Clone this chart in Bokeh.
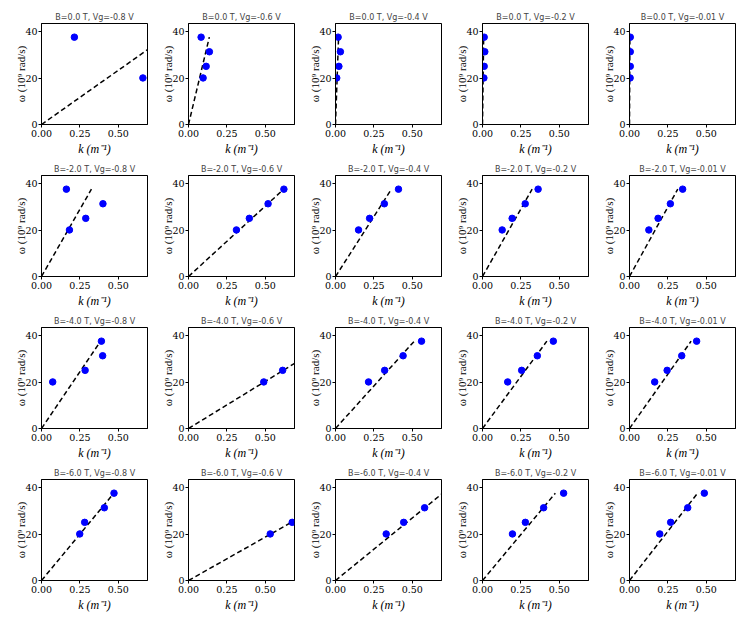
from bokeh.plotting import figure
from bokeh.layouts import gridplot
from bokeh.models import Range1d, FixedTicker, NumeralTickFormatter, BoxAnnotation
from bokeh.embed import file_html
from bokeh.resources import INLINE

NAN = float("nan")

# Magnetic fields (rows) and gate voltages (columns)
B_FIELDS = ["0.0", "-2.0", "-4.0", "-6.0"]
GATE_VOLTAGES = ["-0.8", "-0.6", "-0.4", "-0.2", "-0.01"]

# Angular frequencies (10^9 rad/s)
OMEGA = [20.1, 25.1, 31.4, 37.7]

# Wavenumbers k (m^-1) for each omega, per panel (NaN = no point)
K_B0 = [
    [0.660, NAN, NAN, 0.214],
    [0.095, 0.115, 0.136, 0.082],
    [0.008, 0.022, 0.032, 0.017],
    [0.009, 0.011, 0.015, 0.011],
    [0.004, 0.005, 0.005, 0.005],
]
K_B2 = [
    [0.182, 0.288, 0.400, 0.162],
    [0.312, 0.396, 0.518, 0.621],
    [0.150, 0.222, 0.318, 0.410],
    [0.128, 0.193, 0.278, 0.362],
    [0.126, 0.186, 0.266, 0.346],
]
K_B4 = [
    [0.073, 0.284, 0.398, 0.390],
    [0.490, 0.613, NAN, NAN],
    [0.215, 0.320, 0.440, 0.560],
    [0.164, 0.255, 0.357, 0.461],
    [0.164, 0.245, 0.340, 0.437],
]
K_B6 = [
    [0.249, 0.281, 0.409, 0.472],
    [0.532, 0.675, NAN, NAN],
    [0.330, 0.444, 0.580, NAN],
    [0.195, 0.279, 0.398, 0.528],
    [0.197, 0.268, 0.379, 0.487],
]

# Fitted phase velocities (slope of omega vs k) per panel
SLOPE_B0 = [46.8, 278.0, 1885.0, 5000.0, 15000.0]
SLOPE_B2 = [116.0, 60.8, 103.5, 116.7, 120.0]
SLOPE_B4 = [98.0, 40.7, 73.5, 90.0, 94.0]
SLOPE_B6 = [80.0, 37.5, 54.0, 79.5, 85.0]

K_ALL = [K_B0, K_B2, K_B4, K_B6]
SLOPE_ALL = [SLOPE_B0, SLOPE_B2, SLOPE_B4, SLOPE_B6]

X_TICKS = [0.0, 0.25, 0.5]
Y_TICKS = [0, 20, 40]
X_MAX = 0.69
Y_MAX = 43.6

rows = []
for r, b in enumerate(B_FIELDS):
    row = []
    for c, vg in enumerate(GATE_VOLTAGES):
        p = figure(
            frame_width=106, frame_height=101,
            x_range=Range1d(0, X_MAX), y_range=Range1d(0, Y_MAX),
            output_backend="svg", toolbar_location=None,
            min_border_left=41 if c == 0 else 33, min_border_right=8,
            min_border_top=23 if r == 0 else 15, min_border_bottom=36,
            title=f"B={b} T, Vg={vg} V",
        )
        p.title.text_font = "DejaVu Sans"
        p.title.text_font_size = "8px"
        p.title.text_font_style = "normal"
        p.title.align = "center"
        p.title.standoff = 3
        p.xgrid.visible = False
        p.ygrid.visible = False
        p.outline_line_color = "black"
        p.outline_line_width = 1
        p.add_layout(BoxAnnotation(left=0, right=X_MAX, bottom=0, top=Y_MAX,
                                   fill_alpha=0, line_color="black",
                                   line_width=1, line_alpha=1))

        p.xaxis.ticker = FixedTicker(ticks=X_TICKS)
        p.yaxis.ticker = FixedTicker(ticks=Y_TICKS)
        p.xaxis.formatter = NumeralTickFormatter(format="0.00")
        for ax in (p.xaxis, p.yaxis):
            ax.major_tick_out = 3
            ax.major_tick_in = 0
            ax.minor_tick_out = 0
            ax.minor_tick_in = 0
            ax.axis_line_color = "black"
            ax.major_tick_line_color = "black"
            ax.major_label_text_font = "DejaVu Serif"
            ax.major_label_text_font_size = "9.5px"
            ax.major_label_text_color = "black"
            ax.major_label_standoff = 2
            ax.axis_label_text_font = "Liberation Serif"
            ax.axis_label_text_color = "black"
        p.xaxis.axis_label_standoff = 2
        p.yaxis.axis_label_standoff = -5
        p.yaxis.major_label_standoff = 1
        p.xaxis.axis_label = "k (m⁻¹)"
        p.xaxis.axis_label_text_font_size = "12px"
        p.xaxis.axis_label_text_font_style = "italic"
        p.yaxis.axis_label = "ω (10⁹ rad/s)"
        p.yaxis.axis_label_text_font_size = "11px"
        p.yaxis.axis_label_text_font_style = "normal"

        ks = K_ALL[r][c]
        xs = [k for k, w in zip(ks, OMEGA) if k == k]
        ys = [w for k, w in zip(ks, OMEGA) if k == k]
        v = SLOPE_ALL[r][c]
        wmax = max(OMEGA)
        p.line([0, wmax / v], [0, wmax], line_color="black",
               line_width=1.5, line_dash="5 3")
        p.scatter(xs, ys, size=6.5, color="#0000ff")
        row.append(p)
    rows.append(row)

grid = gridplot(rows, toolbar_location=None)
open("out.html", "w").write(file_html(grid, INLINE))
